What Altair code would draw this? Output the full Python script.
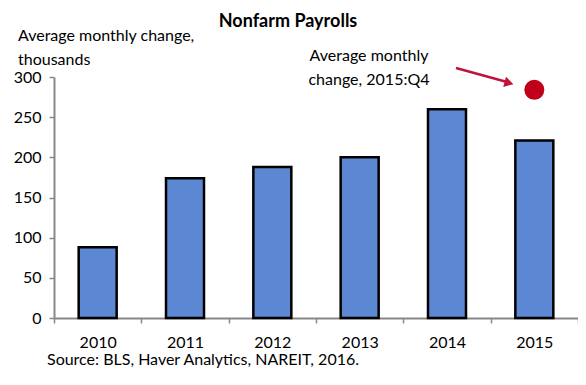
import altair as alt
import pandas as pd

years = ["2010", "2011", "2012", "2013", "2014", "2015"]
values = [88, 174, 188, 200, 260, 221]
q4_year = ["2015"]
q4_value = [284]
y_ticks = [0, 50, 100, 150, 200, 250, 300]

FONT = "Lato"

df = pd.DataFrame({"year": years, "value": values})
dot_df = pd.DataFrame({"year": q4_year, "value": q4_value})

xenc = alt.X(
    "year:N",
    sort=years,
    scale=alt.Scale(paddingInner=0, paddingOuter=0),
    axis=alt.Axis(
        title=None, labelAngle=0, labelFontSize=16, labelFont=FONT, labelColor="black",
        domainColor="#888888", domainWidth=2, tickColor="#888888", tickWidth=1.5,
        tickSize=5, tickBand="extent", labelPadding=11, grid=False,
    ),
)
yenc = alt.Y(
    "value:Q",
    scale=alt.Scale(domain=[0, 300]),
    axis=alt.Axis(
        title=None, values=y_ticks, labelFontSize=16, labelFont=FONT, labelColor="black",
        domainColor="#888888", domainWidth=2, tickColor="#888888", tickWidth=1.5,
        tickSize=5, labelPadding=8, grid=False,
    ),
)

bars = alt.Chart(df).mark_bar(
    size=38, color="#5B87D3", stroke="black", strokeWidth=2.5
).encode(x=xenc, y=yenc)

dot = alt.Chart(dot_df).mark_circle(size=400, color="#C00018", opacity=1).encode(
    x=alt.X("year:N", sort=years), y="value:Q"
)

def label(text, x, y, align="left", size=16, weight="normal", baseline="top"):
    return alt.Chart(pd.DataFrame({"t": [text]})).mark_text(
        align=align, baseline=baseline, fontSize=size, font=FONT, fontWeight=weight,
        color="black", lineBreak="\n", lineHeight=24,
    ).encode(text="t:N", x=alt.value(x), y=alt.value(y))

title = label("Nonfarm Payrolls", 234, -55, align="center", size=18, weight="bold", baseline="middle")
ytitle = label("Average monthly change,\nthousands", -36, -49)
annot = label("Average monthly\nchange, 2015:Q4", 315, -29, align="center")
source = label("Source: BLS, Haver Analytics, NAREIT, 2016.", -7, 283, baseline="middle")

arrow = alt.Chart(pd.DataFrame({"a": [0]})).mark_rule(color="#C0143C", strokeWidth=2.5).encode(
    x=alt.value(402), x2=alt.value(453), y=alt.value(-9), y2=alt.value(5)
)
head = alt.Chart(pd.DataFrame({"a": [0]})).mark_point(
    shape="triangle-up", filled=True, size=110, color="#C0143C", opacity=1, angle=105
).encode(x=alt.value(455), y=alt.value(6))

chart = alt.layer(bars, dot, arrow, head, title, ytitle, annot, source).properties(
    width=524, height=241, autosize="none",
    padding={"left": 46, "top": 69, "right": 0, "bottom": 54},
).configure_view(stroke=None)

chart.save("out.html", embed_options={"renderer": "svg", "actions": False})
